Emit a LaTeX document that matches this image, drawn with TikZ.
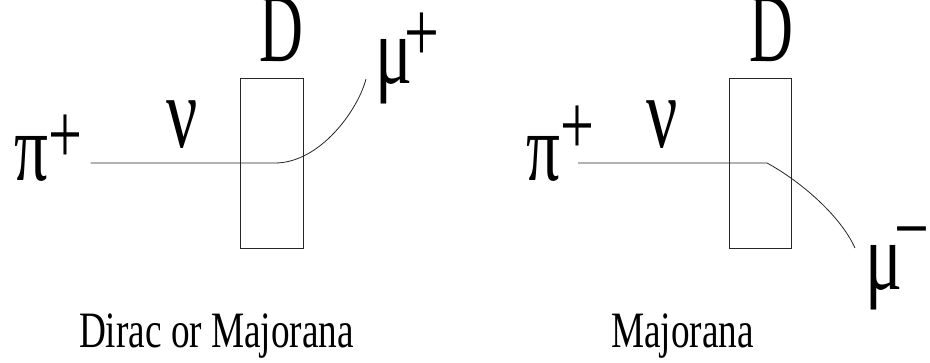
\documentclass[tikz,border=0pt]{standalone}
\usepackage{fontspec}
\setmainfont{Liberation Serif}
\usepackage{graphicx}
\newcommand\bigsz{\fontsize{86}{90}\selectfont}
\newcommand\dsz{\fontsize{98}{100}\selectfont}
\newcommand\grsz{\fontsize{96}{100}\selectfont}
\newcommand\nusz{\fontsize{102}{104}\selectfont}
\newcommand\capsz{\fontsize{51}{56}\selectfont}
\tikzset{
  sym/.style={inner sep=0pt, anchor=base, font=\dsz},
  greek/.style={inner sep=0pt, anchor=base, font=\grsz},
  caption/.style={inner sep=0pt, anchor=base, font=\capsz},
  detector/.style={draw=black!85, line width=0.8pt, minimum width=62.6pt, minimum height=169.6pt, inner sep=0pt},
  track/.style={line width=0.8pt, draw=black!85}
}
\begin{document}
\begin{tikzpicture}[x=1pt,y=-1pt]
\useasboundingbox (0,0) rectangle (930,363);
% left panel
\node[detector] (box1) at (272,163.5) {};
\node[sym] (D1) at (281.5,62) {\scalebox{0.62}[1]{D}};
\node[greek] (pi1) at (48.5,181) {\scalebox{0.7}[1]{π\raisebox{17pt}{\bigsz+}}};
\node[greek, font=\nusz] (nu1) at (182,148) {\scalebox{0.68}[1]{ν}};
\node[greek] (mu1) at (407.5,84) {\scalebox{0.72}[1]{μ\kern-10pt\raisebox{22pt}{\bigsz+}}};
\node[caption] (c1) at (216.5,348) {\scalebox{0.73}[1]{Dirac or Majorana}};
\coordinate (s1) at (90.7,163);
\coordinate (k1) at (275,163);
\coordinate (e1) at (366,79);
\draw[track] (s1) -- (k1) .. controls (320,163) and (358,110) .. (e1);
% right panel
\node[detector] (box2) at (760.5,163.5) {};
\node[sym] (D2) at (771,62) {\scalebox{0.62}[1]{D}};
\node[greek] (pi2) at (560.5,181) {\scalebox{0.7}[1]{π\raisebox{26pt}{\bigsz+}}};
\node[greek, font=\nusz] (nu2) at (662.5,148) {\scalebox{0.68}[1]{ν}};
\node[greek] (mu2) at (897.5,290) {\scalebox{0.72}[1]{μ\kern-10pt\raisebox{32pt}{\bigsz−}}};
\node[caption] (c2) at (682.5,348) {\scalebox{0.73}[1]{Majorana}};
\coordinate (s2) at (578,163);
\coordinate (k2) at (767,163);
\coordinate (e2) at (855,248);
\draw[track] (s2) -- (k2) .. controls (800,181) and (840,215) .. (e2);
\end{tikzpicture}
\end{document}
